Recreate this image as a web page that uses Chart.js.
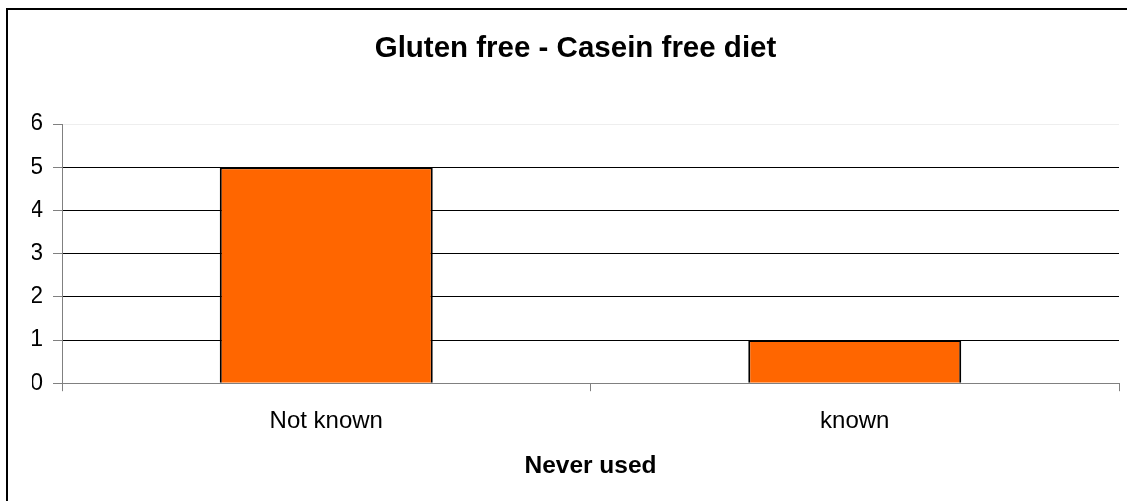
<!DOCTYPE html>
<html>
<head>
<meta charset="utf-8">
<script src="https://cdn.jsdelivr.net/npm/chart.js@4/dist/chart.umd.min.js"></script>
<style>
  html, body { margin: 0; padding: 0; background: #fff; }
  #wrap { position: relative; width: 1127px; height: 501px; }
</style>
</head>
<body>
<div id="wrap"><canvas id="c" width="1127" height="501"></canvas></div>
<script>
const chartTitle = 'Gluten free - Casein free diet';
const xAxisTitle = 'Never used';
const categories = ['Not known', 'known'];
const values = [5, 1];
const yTicks = [0, 1, 2, 3, 4, 5, 6];

const frame = {
  id: 'frame',
  afterDraw(chart) {
    const ctx = chart.ctx;
    ctx.save();
    ctx.strokeStyle = '#000';
    ctx.lineWidth = 2;
    ctx.beginPath();
    ctx.moveTo(7, 501);
    ctx.lineTo(7, 9);
    ctx.lineTo(1127, 9);
    ctx.stroke();
    ctx.restore();
  }
};

new Chart(document.getElementById('c'), {
  type: 'bar',
  data: {
    labels: categories,
    datasets: [{
      data: values,
      backgroundColor: '#FF6600',
      borderColor: '#000',
      borderWidth: 2,
      barPercentage: 0.403,
      categoryPercentage: 1
    }]
  },
  options: {
    responsive: false,
    animation: false,
    layout: { padding: { left: 32, right: 8, top: 0, bottom: 15.6 } },
    plugins: {
      legend: { display: false },
      tooltip: { enabled: false },
      title: {
        display: true,
        text: chartTitle,
        color: '#000',
        font: { family: 'Liberation Sans, Arial, sans-serif', size: 29.5, weight: 'bold' },
        padding: { top: 31.3, bottom: 57.3 }
      }
    },
    scales: {
      x: {
        grid: { offset: true, drawOnChartArea: false, drawTicks: true, tickLength: 8, tickColor: '#808080' },
        border: { color: '#808080', width: 1 },
        ticks: { color: '#000', padding: 16, font: { family: 'Liberation Sans, Arial, sans-serif', size: 24 } },
        title: {
          display: true,
          text: xAxisTitle,
          color: '#000',
          font: { family: 'Liberation Sans, Arial, sans-serif', size: 24.5, weight: 'bold' },
          padding: { top: 0, bottom: 4 }
        }
      },
      y: {
        min: 0,
        max: 6,
        afterBuildTicks(scale) { scale.ticks = yTicks.map(v => ({ value: v })); },
        afterFit(scale) { scale.width = 30; },
        grid: {
          color: ctx => ctx.tick && ctx.tick.value === 6 ? '#eeeeee' : (ctx.tick && ctx.tick.value === 0 ? '#808080' : '#000'),
          tickColor: '#808080',
          tickLength: 9,
          lineWidth: 1
        },
        border: { color: '#808080', width: 1 },
        ticks: { color: '#000', padding: 10, stepSize: 1, font: { family: 'Liberation Sans, Arial, sans-serif', size: 23 } }
      }
    }
  },
  plugins: [frame]
});
</script>
</body>
</html>
